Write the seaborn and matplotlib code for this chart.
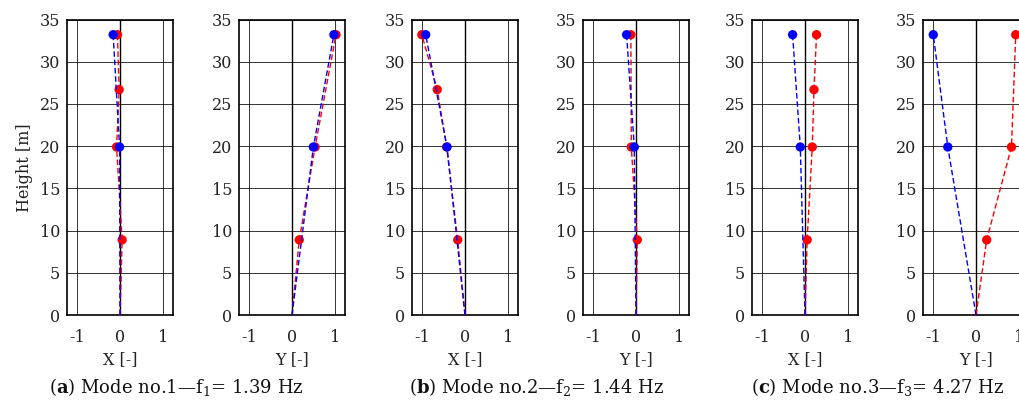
import matplotlib
matplotlib.use("Agg")
import matplotlib.pyplot as plt
import seaborn as sns
import pandas as pd

# ---- data ----
heights_red_x = [0, 8.9, 19.9, 26.7, 33.2]
heights_red_y = [0, 8.9, 19.9, 33.2]
heights_blue = [0, 19.9, 33.2]

mode1_x_red = [0, 0.05, -0.08, -0.02, -0.06]
mode1_x_blue = [0, -0.01, -0.16]
mode1_y_red = [0, 0.17, 0.54, 1.03]
mode1_y_blue = [0, 0.50, 0.98]

mode2_x_red = [0, -0.17, -0.43, -0.65, -1.01]
mode2_x_blue = [0, -0.42, -0.92]
mode2_y_red = [0, 0.03, -0.11, -0.12]
mode2_y_blue = [0, -0.04, -0.22]

mode3_x_red = [0, 0.05, 0.17, 0.21, 0.27]
mode3_x_blue = [0, -0.11, -0.29]
mode3_y_red = [0, 0.25, 0.83, 0.93]
mode3_y_blue = [0, -0.66, -1.00]

axis_labels = ["X [-]", "Y [-]", "X [-]", "Y [-]", "X [-]", "Y [-]"]
captions = [r"($\mathbf{a}$) Mode no.1—$\mathrm{f}_1$= 1.39 Hz",
            r"($\mathbf{b}$) Mode no.2—$\mathrm{f}_2$= 1.44 Hz",
            r"($\mathbf{c}$) Mode no.3—$\mathrm{f}_3$= 4.27 Hz"]
x_ticks = [-1, 0, 1]
y_ticks = [0, 5, 10, 15, 20, 25, 30, 35]

panels = [
    (mode1_x_red, heights_red_x, mode1_x_blue),
    (mode1_y_red, heights_red_y, mode1_y_blue),
    (mode2_x_red, heights_red_x, mode2_x_blue),
    (mode2_y_red, heights_red_y, mode2_y_blue),
    (mode3_x_red, heights_red_x, mode3_x_blue),
    (mode3_y_red, heights_red_y, mode3_y_blue),
]

sns.set_theme(style="white")
plt.rcParams["font.family"] = ["DejaVu Serif"]
plt.rcParams["mathtext.fontset"] = "custom"
plt.rcParams["mathtext.rm"] = "DejaVu Serif"
plt.rcParams["mathtext.it"] = "DejaVu Serif:italic"
plt.rcParams["mathtext.bf"] = "DejaVu Serif:bold"
plt.rcParams["axes.unicode_minus"] = False

W, H = 1019, 405
fig = plt.figure(figsize=(W / 100, H / 100), dpi=100)

lefts = [67, 239, 412, 583, 752, 923]
ax_w = 106
ax_bottom = (H - 315) / H
ax_h = (315 - 19.5) / H

for i, (red_x, red_h, blue_x) in enumerate(panels):
    ax = fig.add_axes([lefts[i] / W, ax_bottom, ax_w / W, ax_h])
    ax.grid(True, color="black", linewidth=0.7, alpha=0.8)
    ax.axvline(0, color="black", linewidth=1.0, zorder=1)
    red_df = pd.DataFrame({"x": red_x, "h": red_h})
    blue_df = pd.DataFrame({"x": blue_x, "h": heights_blue})
    sns.lineplot(data=red_df, x="x", y="h", sort=False, estimator=None,
                 color="red", linestyle=(0, (4, 2)), linewidth=1.0, ax=ax, zorder=3)
    sns.scatterplot(data=red_df[red_df["h"] > 0], x="x", y="h", color="red",
                    s=45, edgecolor="none", ax=ax, zorder=4)
    sns.lineplot(data=blue_df, x="x", y="h", sort=False, estimator=None,
                 color="blue", linestyle=(0, (4, 2)), linewidth=1.0, ax=ax, zorder=5)
    sns.scatterplot(data=blue_df[blue_df["h"] > 0], x="x", y="h", color="blue",
                    s=45, edgecolor="none", ax=ax, zorder=6)
    ax.set_xlim(-1.24, 1.24)
    ax.set_ylim(0, 35)
    ax.set_xticks(x_ticks)
    ax.set_xticklabels([str(t) for t in x_ticks])
    ax.set_yticks(y_ticks)
    ax.tick_params(axis="y", labelsize=11.5, length=0, pad=5, colors="#222222")
    ax.tick_params(axis="x", labelsize=11.5, length=0, pad=10, colors="#222222")
    ax.set_xlabel(axis_labels[i], fontsize=11.5, labelpad=4, color="#222222")
    if i == 0:
        ax.set_ylabel("Height [m]", fontsize=11.5, labelpad=5, color="#222222")
    else:
        ax.set_ylabel("")
    for sp in ax.spines.values():
        sp.set_color("black")
        sp.set_linewidth(1.2)
    ax.set_axisbelow(True)

cap_x = [176, 537, 878]
for cx, cap in zip(cap_x, captions):
    fig.text(cx / W, 1 - 387 / H, cap, ha="center", va="center", fontsize=13, color="#111111")

fig.savefig("out.png", dpi=100)
